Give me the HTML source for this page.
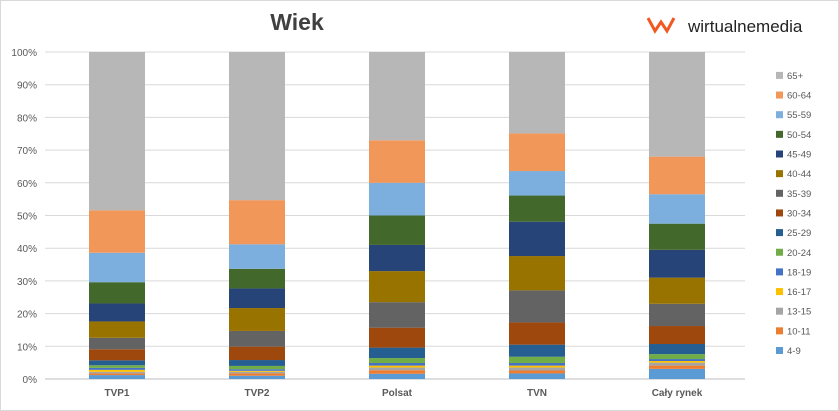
<!DOCTYPE html>
<html><head><meta charset="utf-8"><style>
body{margin:0;background:#fff;font-family:"Liberation Sans",sans-serif}
#c{position:relative;width:839px;height:411px;overflow:hidden}
svg text{font-family:"Liberation Sans",sans-serif}
</style></head><body>
<div id="c">
<svg id="s" width="839" height="411">
<rect x="0.5" y="0.5" width="838" height="410" fill="#fff" stroke="#d9d9d9"/>
<text x="297" y="30" font-size="23" font-weight="bold" fill="#404040" text-anchor="middle">Wiek</text>
<g>
<path d="M648 18 L655 31 L661 22 L667 31 L674 18" fill="none" stroke="#f05a22" stroke-width="3"/>
<text x="688" y="32" font-size="17" fill="#222" font-weight="500">wirtualnemedia</text>
</g>
<g id="grid"></g><g id="bars"></g><g id="legend"></g>
</svg></div>
<script>
const categories=["TVP1","TVP2","Polsat","TVN","Cały rynek"];
const seriesNames=["4-9","10-11","13-15","16-17","18-19","20-24","25-29","30-34","35-39","40-44","45-49","50-54","55-59","60-64","65+"];
const colors=["#5b9bd5","#ed7d31","#a5a5a5","#ffc000","#4472c4","#70ad47","#255e91","#9e480e","#636363","#997300","#264478","#43682b","#7cafdd","#f1975a","#b7b7b7"];
const tvp1=[1.2,0.5,0.5,0.6,0.6,0.8,1.5,3.4,3.5,5,5.5,6.5,9,13,48.4];
const tvp2=[1.0,0.7,0.5,0.3,0.5,1.0,1.8,4.1,4.8,7,6,6,7.5,13.5,45.3];
const polsat=[1.6,1.1,0.8,0.6,0.8,1.5,3.2,6.1,7.8,9.5,8,9,10,13,27];
const tvn=[1.7,0.9,0.9,0.6,0.8,1.9,3.7,6.8,9.8,10.5,10.5,8,7.5,11.5,24.9];
const rynek=[3.1,1.0,0.9,0.5,0.6,1.5,3.1,5.5,6.8,8,8.5,8,9,11.5,32.0];
const yTicks=[0,10,20,30,40,50,60,70,80,90,100];
const values=[tvp1,tvp2,polsat,tvn,rynek];
const NS="http://www.w3.org/2000/svg";
const x0=45,x1=745,yb=379,yt=52;
const y=v=>yb-(v/100)*(yb-yt);
const bw=(x1-x0)/categories.length;
const xc=i=>x0+2+bw*(i+0.5);
function mk(t,a,p){const e=document.createElementNS(NS,t);for(const k in a)e.setAttribute(k,a[k]);p.appendChild(e);return e;}
const g=document.getElementById('grid');
yTicks.forEach(t=>{
 const l=mk('line',{x1:x0,x2:x1,y1:y(t),y2:y(t),stroke:t===0?'#bfbfbf':'#d9d9d9','stroke-width':1},g);
 
 
 const tx=mk('text',{x:37,y:y(t)+4,'font-size':10,fill:'#595959','text-anchor':'end'},g);
 tx.textContent=t+'%';
 
 
});
const b=document.getElementById('bars');
values.forEach((vals,i)=>{
 let cum=0;
 vals.forEach((v,j)=>{
  const r=mk('rect',{x:xc(i)-28,width:56,y:y(cum+v),height:y(cum)-y(cum+v),fill:colors[j]},b);
  
  
  cum+=v;
 });
 const t=mk('text',{x:xc(i),y:396,'font-size':10,'font-weight':'bold',fill:'#595959','text-anchor':'middle'},b);
 t.textContent=categories[i];
 
 
});
const lg=document.getElementById('legend');
seriesNames.forEach((n,j)=>{
 const yy=351-j*19.65;
 const r=mk('rect',{x:776,y:yy-4,width:7,height:7,fill:colors[j]},lg);
 
 
 const t=mk('text',{x:787,y:yy+3,'font-size':9.5,fill:'#595959'},lg);
 t.textContent=n;
 
 
});
</script>
</body></html>
